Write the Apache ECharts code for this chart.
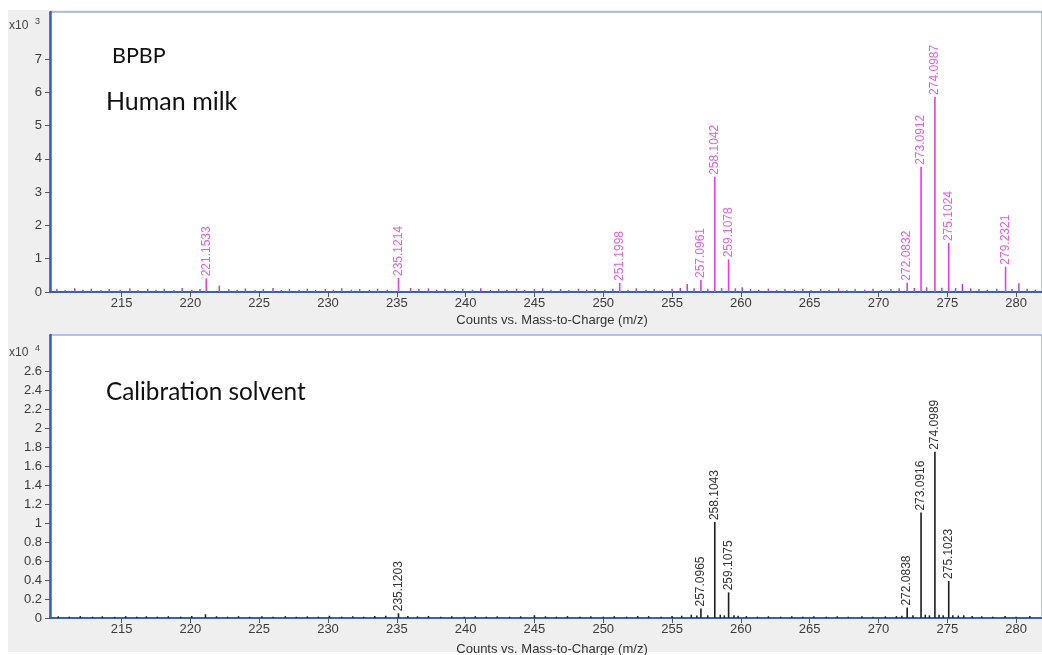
<!DOCTYPE html>
<html>
<head>
<meta charset="utf-8">
<script src="https://cdn.jsdelivr.net/npm/echarts@6/dist/echarts.min.js"></script>
<style>
  html, body { margin: 0; padding: 0; background: #ffffff; }
  #chart { width: 1042px; height: 655px; }
</style>
</head>
<body>
<div id="chart"></div>
<script>
// Human milk spectrum (counts x10^3): labelled peaks
const milkPeakMz = [221.1533, 235.1214, 251.1998, 257.0961, 258.1042, 259.1078, 272.0832, 273.0912, 274.0987, 275.1024, 279.2321];
const milkPeakCounts = [0.41, 0.42, 0.27, 0.36, 3.46, 0.98, 0.28, 3.76, 5.86, 1.47, 0.76];

// Human milk spectrum: unlabelled minor ions and baseline noise (x10^3)
const milkNoiseMz = [210.3, 210.9, 211.6, 212.2, 212.8, 213.5, 214.1, 214.9, 215.6, 216.2, 216.9, 217.5, 218.1, 218.8, 219.4, 220.1, 220.7, 222.1, 222.8, 223.4, 224.0, 224.7, 225.3, 226.0, 226.6, 227.2, 227.9, 228.5, 229.1, 229.8, 230.4, 231.0, 231.7, 232.3, 233.0, 233.6, 234.3, 236.0, 236.6, 237.3, 237.9, 238.5, 239.2, 239.8, 240.5, 241.1, 241.8, 242.4, 243.0, 243.7, 244.3, 245.0, 245.6, 246.2, 246.9, 247.5, 248.2, 248.8, 249.4, 250.1, 250.7, 251.8, 252.4, 253.1, 253.7, 254.3, 255.0, 255.6, 256.1, 256.6, 257.6, 258.6, 259.6, 260.1, 260.7, 261.3, 262.0, 262.6, 263.2, 263.9, 264.5, 265.1, 265.8, 266.4, 267.1, 267.7, 268.3, 269.0, 269.6, 270.2, 270.9, 271.5, 272.6, 273.5, 274.6, 275.6, 276.1, 276.7, 277.3, 277.9, 278.6, 279.7, 280.2, 280.8, 281.4];
const milkNoiseCounts = [0.09, 0.06, 0.11, 0.07, 0.10, 0.06, 0.09, 0.07, 0.11, 0.06, 0.09, 0.07, 0.10, 0.06, 0.12, 0.07, 0.09, 0.19, 0.09, 0.07, 0.11, 0.06, 0.09, 0.12, 0.06, 0.09, 0.07, 0.10, 0.06, 0.09, 0.07, 0.11, 0.07, 0.09, 0.06, 0.10, 0.07, 0.12, 0.09, 0.11, 0.07, 0.10, 0.06, 0.09, 0.07, 0.11, 0.06, 0.09, 0.07, 0.10, 0.06, 0.09, 0.11, 0.07, 0.09, 0.06, 0.10, 0.07, 0.09, 0.06, 0.10, 0.07, 0.11, 0.07, 0.09, 0.06, 0.10, 0.12, 0.24, 0.11, 0.10, 0.12, 0.11, 0.14, 0.09, 0.07, 0.10, 0.06, 0.09, 0.07, 0.10, 0.06, 0.09, 0.07, 0.11, 0.06, 0.09, 0.07, 0.10, 0.06, 0.09, 0.11, 0.12, 0.14, 0.13, 0.12, 0.24, 0.11, 0.09, 0.07, 0.10, 0.09, 0.26, 0.10, 0.07];

// Calibration solvent spectrum (counts x10^4): labelled peaks
const calPeakMz = [235.1203, 257.0965, 258.1043, 259.1075, 272.0838, 273.0916, 274.0989, 275.1023];
const calPeakCounts = [0.05, 0.10, 1.01, 0.27, 0.11, 1.11, 1.75, 0.39];

// Calibration solvent spectrum: baseline noise (x10^4)
const calNoiseMz = [210.4, 211.2, 212.0, 212.9, 213.6, 214.5, 215.3, 216.1, 216.8, 217.6, 218.4, 219.3, 220.1, 221.1, 221.9, 222.7, 223.5, 224.3, 225.2, 226.0, 226.9, 227.7, 228.5, 229.3, 230.1, 231.0, 231.8, 232.6, 233.4, 234.2, 235.8, 236.5, 237.3, 238.2, 239.0, 239.9, 240.7, 241.5, 242.3, 243.2, 244.0, 245.0, 245.8, 246.6, 247.4, 248.3, 249.1, 250.0, 250.8, 251.7, 252.5, 253.3, 254.2, 255.0, 255.7, 256.4, 256.8, 257.6, 258.5, 258.8, 259.5, 259.8, 260.4, 261.2, 262.0, 262.9, 263.7, 264.5, 265.3, 266.2, 267.0, 267.8, 268.8, 269.6, 270.5, 271.3, 271.7, 272.5, 273.4, 273.7, 274.4, 274.7, 275.4, 275.8, 276.2, 276.8, 277.5, 278.3, 279.2, 280.0, 281.0];
const calNoiseCounts = [0.018, 0.014, 0.020, 0.013, 0.018, 0.012, 0.020, 0.014, 0.018, 0.013, 0.019, 0.014, 0.020, 0.040, 0.018, 0.014, 0.019, 0.013, 0.018, 0.014, 0.020, 0.013, 0.018, 0.014, 0.024, 0.014, 0.018, 0.013, 0.020, 0.024, 0.020, 0.018, 0.022, 0.014, 0.018, 0.013, 0.019, 0.014, 0.018, 0.013, 0.018, 0.030, 0.018, 0.014, 0.020, 0.013, 0.018, 0.014, 0.019, 0.014, 0.022, 0.020, 0.014, 0.020, 0.024, 0.035, 0.026, 0.028, 0.035, 0.028, 0.028, 0.024, 0.020, 0.014, 0.018, 0.013, 0.019, 0.014, 0.018, 0.013, 0.019, 0.014, 0.018, 0.014, 0.018, 0.020, 0.024, 0.028, 0.035, 0.028, 0.035, 0.028, 0.028, 0.026, 0.028, 0.020, 0.018, 0.014, 0.020, 0.013, 0.022];

// Axis ticks
const mzTicks = [215, 220, 225, 230, 235, 240, 245, 250, 255, 260, 265, 270, 275, 280];
const milkTicks = [0, 1, 2, 3, 4, 5, 6, 7];
const calTicks = [0, 0.2, 0.4, 0.6, 0.8, 1, 1.2, 1.4, 1.6, 1.8, 2, 2.2, 2.4, 2.6];

const MZ_MIN = 209.8, MZ_MAX = 281.88;
const AXIS_BLUE = '#3561b8';
const MAGENTA = '#e040dc';
const MAGENTA_TEXT = '#e45ee0';
const DARK = '#1e1e1e';
const TICK_FONT = '"Liberation Sans", Arial, sans-serif';
const TITLE_FONT = 'Lato, "Open Sans", sans-serif';

const zip = (a, b) => a.map((v, i) => [v, b[i]]);

// One stick per ion, optionally with its m/z written vertically above it
function stickSeries(name, idx, mz, counts, color, labelColor, width, withLabel) {
  return {
    name, type: 'custom', xAxisIndex: idx, yAxisIndex: idx,
    data: zip(mz, counts),
    encode: { x: 0, y: 1 },
    clip: true,
    silent: true,
    renderItem(params, api) {
      const x = api.value(0), y = api.value(1);
      const p0 = api.coord([x, 0]);
      const p1 = api.coord([x, y]);
      const children = [{
        type: 'line',
        shape: { x1: p0[0], y1: p0[1], x2: p1[0], y2: p1[1] },
        style: { stroke: color, lineWidth: width }
      }];
      if (withLabel) {
        children.push({
          type: 'text',
          x: p1[0], y: p1[1] - 2,
          rotation: Math.PI / 2,
          style: {
            text: x.toFixed(4),
            fill: labelColor,
            font: '12px ' + TICK_FONT,
            align: 'left',
            verticalAlign: 'middle'
          }
        });
      }
      return { type: 'group', children };
    }
  };
}

function xAxisFor(idx) {
  return {
    gridIndex: idx, type: 'value', min: MZ_MIN, max: MZ_MAX,
    axisLine: { show: true, onZero: false, lineStyle: { color: AXIS_BLUE, width: 2 } },
    axisTick: { show: true, customValues: mzTicks, length: 5, lineStyle: { color: '#555' } },
    axisLabel: { show: true, customValues: mzTicks, fontSize: 13, color: '#3a3a3a', margin: 5, fontFamily: TICK_FONT },
    splitLine: { show: false }
  };
}

function yAxisFor(idx, max, ticks) {
  return {
    gridIndex: idx, type: 'value', min: 0, max,
    axisLine: { show: true, lineStyle: { color: AXIS_BLUE, width: 2.5 } },
    axisTick: { show: true, customValues: ticks, length: 5, lineStyle: { color: '#555' } },
    axisLabel: {
      show: true, customValues: ticks, fontSize: 13, color: '#3a3a3a', margin: 8, fontFamily: TICK_FONT,
      formatter: v => String(+(+v).toFixed(1))
    },
    splitLine: { show: false }
  };
}

const chart = echarts.init(document.getElementById('chart'), null, { renderer: 'canvas' });

chart.setOption({
  animation: false,
  backgroundColor: '#ffffff',
  grid: [
    { left: 50, top: 12, right: -2, height: 280, show: true, backgroundColor: '#ffffff', borderColor: '#6a8ad0', borderWidth: 1 },
    { left: 50, top: 335, right: -2, height: 283, show: true, backgroundColor: '#ffffff', borderColor: '#6a8ad0', borderWidth: 1 }
  ],
  xAxis: [xAxisFor(0), xAxisFor(1)],
  yAxis: [yAxisFor(0, 8.41, milkTicks), yAxisFor(1, 2.98, calTicks)],
  series: [
    stickSeries('milkNoise', 0, milkNoiseMz, milkNoiseCounts, '#b040d8', null, 1.5, false),
    stickSeries('milk', 0, milkPeakMz, milkPeakCounts, MAGENTA, MAGENTA_TEXT, 1.6, true),
    stickSeries('calNoise', 1, calNoiseMz, calNoiseCounts, DARK, null, 1.5, false),
    stickSeries('cal', 1, calPeakMz, calPeakCounts, DARK, '#333333', 1.6, true)
  ],
  graphic: {
    elements: [
      // grey surround behind both panels
      { type: 'rect', z: -10, silent: true, shape: { x: 8, y: 10, width: 1040, height: 642 }, style: { fill: '#efefef' } },
      // scale factor labels
      { type: 'text', left: 9, top: 20, style: { text: 'x10', font: '12px ' + TICK_FONT, fill: '#444' } },
      { type: 'text', left: 35, top: 17, style: { text: '3', font: '9px ' + TICK_FONT, fill: '#444' } },
      { type: 'text', left: 9, top: 347, style: { text: 'x10', font: '12px ' + TICK_FONT, fill: '#444' } },
      { type: 'text', left: 35, top: 344, style: { text: '4', font: '9px ' + TICK_FONT, fill: '#444' } },
      // x axis titles
      { type: 'text', x: 552, y: 320, style: { text: 'Counts vs. Mass-to-Charge (m/z)', font: '13px ' + TICK_FONT, fill: '#333', align: 'center', verticalAlign: 'middle' } },
      { type: 'text', x: 552, y: 649, style: { text: 'Counts vs. Mass-to-Charge (m/z)', font: '13px ' + TICK_FONT, fill: '#333', align: 'center', verticalAlign: 'middle' } },
      // panel titles
      { type: 'text', x: 112, y: 56, style: { text: 'BPBP', font: '21.5px ' + TITLE_FONT, fill: '#111', verticalAlign: 'middle' } },
      { type: 'text', x: 106, y: 102, style: { text: 'Human milk', font: '25px ' + TITLE_FONT, fill: '#111', verticalAlign: 'middle' } },
      { type: 'text', x: 106, y: 392, style: { text: 'Calibration solvent', font: '24.3px ' + TITLE_FONT, fill: '#111', verticalAlign: 'middle' } }
    ]
  }
});
</script>
</body>
</html>
